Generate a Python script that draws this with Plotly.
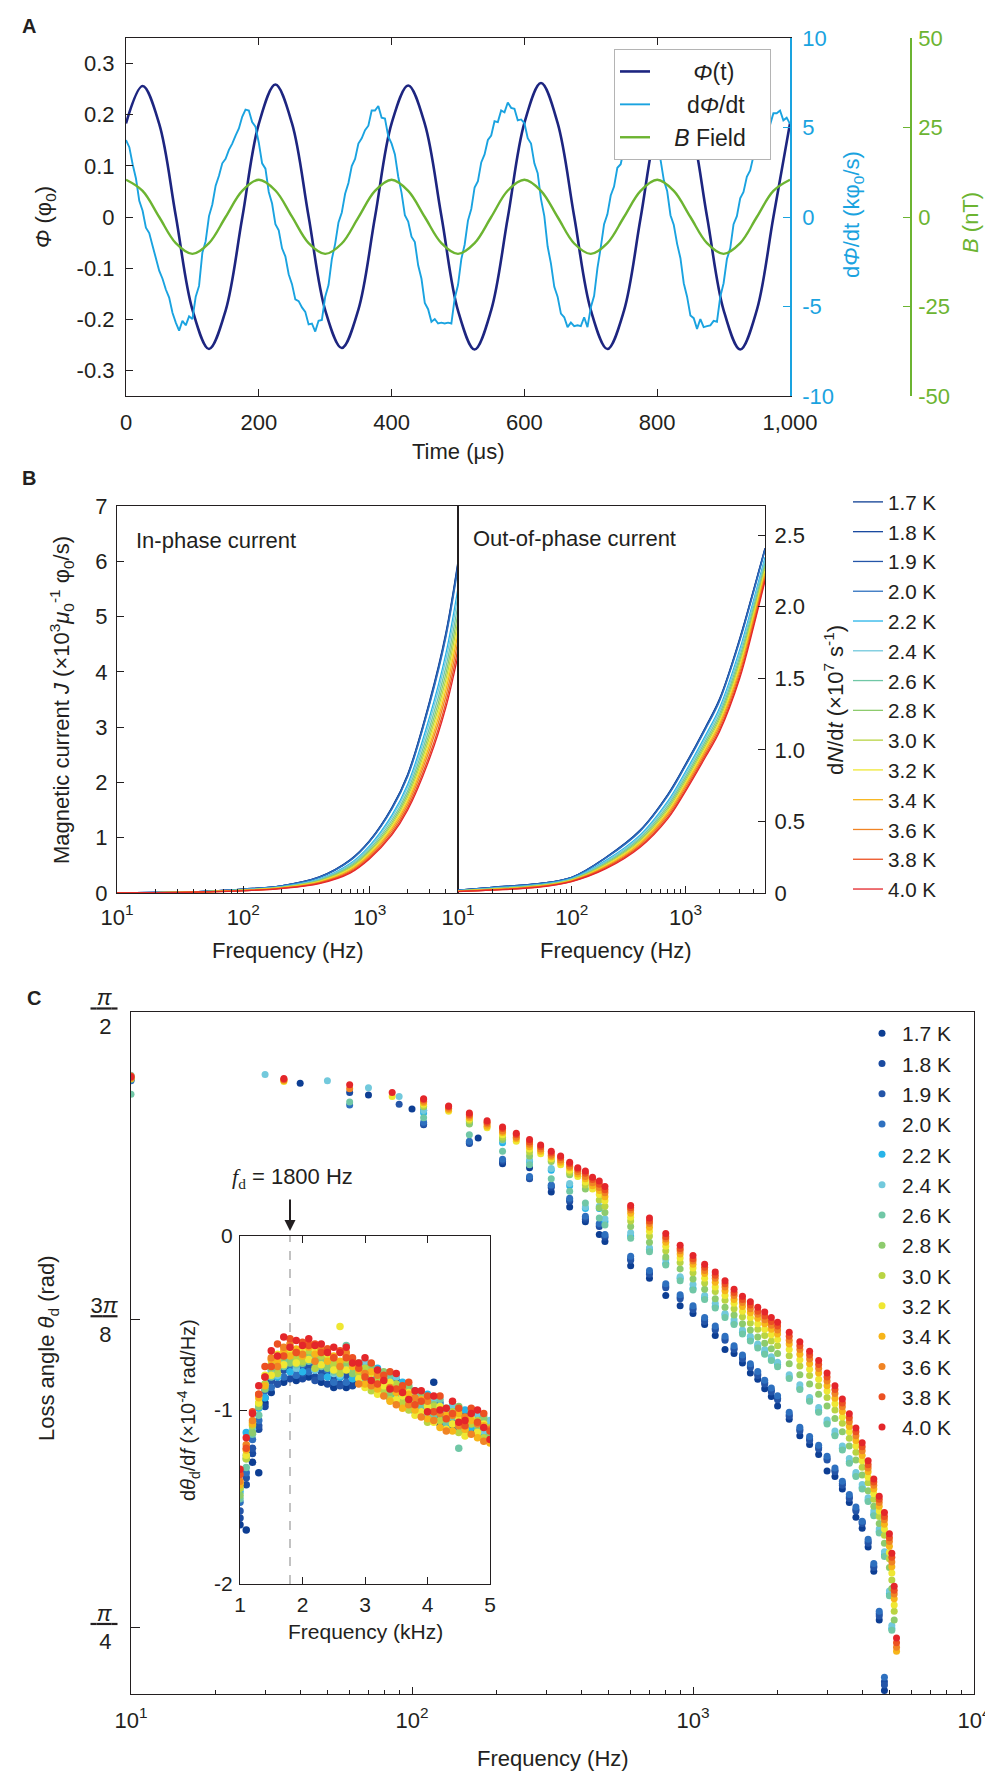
import plotly.graph_objects as go

# ================= Panel A data =================
T_PHI = list(range(0, 1001, 25))          # time (us)
PHI = [0.183, 0.256, 0.182, 0.002, -0.181, -0.258, -0.183, -0.002,
       0.182, 0.259, 0.183, 0.001, -0.182, -0.256, -0.181, 0.000,
       0.183, 0.257, 0.182, 0.002, -0.183, -0.259, -0.182, -0.001,
       0.184, 0.262, 0.184, 0.001, -0.182, -0.258, -0.183, -0.002,
       0.182, 0.258, 0.183, 0.001, -0.182, -0.259, -0.182, 0.000,
       0.183]
B_FIELD = [10.4, 7.3, 0.0, -7.3, -10.3, -7.3, 0.0, 7.3,
           10.4, 7.4, 0.1, -7.3, -10.3, -7.4, -0.1, 7.3,
           10.4, 7.3, 0.0, -7.3, -10.3, -7.3, 0.0, 7.4,
           10.4, 7.3, 0.0, -7.4, -10.3, -7.3, 0.0, 7.3,
           10.4, 7.3, 0.0, -7.3, -10.3, -7.3, 0.0, 7.3,
           10.4]
T_DPHI = list(range(0, 1001, 5))          # time (us)
DPHI = [4.3, 3.9, 2.95, 2.15, 0.9, 0.35, -0.6, -0.9, -1.6, -2.25,
        -3.0, -3.45, -4.05, -4.5, -5.35, -5.9, -6.35, -5.8, -6.05, -5.55,
        -5.7, -4.45, -3.85, -2.0, -1.35, 0.05, 0.7, 1.75, 2.3, 3.0,
        3.25, 3.75, 4.1, 4.55, 4.95, 5.6, 6.0, 5.95, 5.3, 5.05,
        4.15, 3.0, 2.7, 1.4, 0.75, -0.4, -0.75, -1.75, -2.2, -3.2,
        -3.75, -4.6, -4.7, -5.05, -5.3, -6.0, -5.95, -6.4, -5.8, -5.75,
        -4.45, -3.8, -2.35, -1.5, -0.3, 0.25, 1.3, 1.9, 2.85, 3.25,
        4.1, 4.4, 4.85, 5.1, 5.95, 5.95, 6.2, 5.55, 5.5, 4.5,
        4.1, 3.5, 2.25, 1.35, 0.1, -0.25, -1.1, -1.4, -2.7, -3.45,
        -4.8, -5.15, -5.85, -5.7, -5.95, -5.9, -5.95, -5.9, -5.95, -4.55,
        -3.8, -2.35, -1.55, -0.2, 0.45, 1.65, 2.0, 3.05, 3.5, 4.3,
        4.55, 5.35, 5.3, 5.95, 5.85, 6.4, 6.1, 6.05, 5.4, 5.45,
        5.25, 4.4, 4.1, 3.0, 2.45, 1.0, 0.05, -1.65, -2.6, -3.9,
        -4.45, -5.4, -5.6, -6.15, -5.9, -6.1, -6.05, -6.1, -5.6, -6.15,
        -5.05, -4.4, -2.85, -1.7, -0.4, 0.15, 1.2, 1.7, 2.75, 2.95,
        3.8, 3.9, 4.65, 4.7, 5.45, 5.55, 6.2, 5.55, 5.3, 4.4,
        4.0, 3.2, 2.05, 1.45, 0.1, -0.45, -1.5, -2.3, -3.7, -4.45,
        -5.5, -5.65, -6.25, -5.7, -6.15, -6.1, -6.05, -5.8, -5.85, -4.45,
        -3.7, -2.35, -1.75, -0.4, 0.05, 1.05, 1.4, 2.25, 2.6, 3.4,
        3.55, 4.25, 4.3, 5.05, 5.15, 5.8, 5.8, 5.95, 5.4, 5.55,
        5.2]
A_X_TICKS = [0, 200, 400, 600, 800, 1000]
A_X_TEXT = ['0', '200', '400', '600', '800', '1,000']
A_Y_TICKS = [-0.3, -0.2, -0.1, 0, 0.1, 0.2, 0.3]
A_Y_TEXT = ['-0.3', '-0.2', '-0.1', '0', '0.1', '0.2', '0.3']
A_Y2_TICKS = [-10, -5, 0, 5, 10]
A_Y2_TEXT = ['-10', '-5', '0', '5', '10']
A_Y3_TICKS = [-50, -25, 0, 25, 50]
A_Y3_TEXT = ['-50', '-25', '0', '25', '50']

# ================= Temperatures =================
TEMPS = ['1.7 K', '1.8 K', '1.9 K', '2.0 K', '2.2 K', '2.4 K', '2.6 K',
         '2.8 K', '3.0 K', '3.2 K', '3.4 K', '3.6 K', '3.8 K', '4.0 K']
T_COLORS = ['#0d3e93', '#1a4aa0', '#2455a8', '#2e70bf', '#27b4e9', '#72c9dc', '#70c7a6',
            '#8dcb6d', '#b9d443', '#efe733', '#f7b51a', '#f08424', '#ec5122', '#e4262a']

# ================= Panel B data =================
FREQ_B = [10, 20, 50, 100, 200, 400, 700, 1000, 1500, 2000, 3000, 4000, 5000]
BI_17 = [0.0, 0.01, 0.03, 0.07, 0.13, 0.29, 0.60, 0.95, 1.55, 2.15, 3.50, 4.70, 6.00]
BI_18 = [0.0, 0.01, 0.03, 0.07, 0.13, 0.29, 0.595, 0.94, 1.54, 2.14, 3.48, 4.67, 5.97]
BI_19 = [0.0, 0.01, 0.03, 0.07, 0.13, 0.285, 0.59, 0.94, 1.53, 2.12, 3.46, 4.65, 5.93]
BI_20 = [0.0, 0.01, 0.03, 0.068, 0.127, 0.282, 0.583, 0.93, 1.515, 2.105, 3.43, 4.61, 5.88]
BI_22 = [0.0, 0.008, 0.027, 0.062, 0.116, 0.256, 0.533, 0.858, 1.41, 1.968, 3.21, 4.32, 5.52]
BI_24 = [0.0, 0.008, 0.026, 0.059, 0.112, 0.247, 0.514, 0.831, 1.37, 1.916, 3.12, 4.21, 5.39]
BI_26 = [0.0, 0.008, 0.025, 0.056, 0.107, 0.235, 0.49, 0.798, 1.32, 1.851, 3.017, 4.079, 5.218]
BI_28 = [0.0, 0.007, 0.025, 0.054, 0.103, 0.224, 0.468, 0.768, 1.275, 1.793, 2.923, 3.958, 5.065]
BI_30 = [0.0, 0.007, 0.024, 0.051, 0.099, 0.214, 0.449, 0.742, 1.235, 1.74, 2.84, 3.85, 4.93]
BI_32 = [0.0, 0.006, 0.023, 0.049, 0.095, 0.206, 0.432, 0.719, 1.20, 1.695, 2.765, 3.755, 4.81]
BI_34 = [0.0, 0.006, 0.022, 0.047, 0.092, 0.198, 0.415, 0.696, 1.165, 1.65, 2.69, 3.66, 4.69]
BI_36 = [0.0, 0.006, 0.022, 0.045, 0.088, 0.188, 0.396, 0.67, 1.125, 1.598, 2.61, 3.55, 4.56]
BI_38 = [0.0, 0.005, 0.021, 0.042, 0.084, 0.179, 0.377, 0.643, 1.085, 1.545, 2.52, 3.44, 4.42]
BI_40 = [0.0, 0.005, 0.02, 0.04, 0.08, 0.17, 0.36, 0.62, 1.05, 1.50, 2.45, 3.35, 4.30]

BO_17 = [0.02, 0.04, 0.065, 0.11, 0.25, 0.44, 0.69, 0.90, 1.16, 1.36, 1.78, 2.13, 2.41]
BO_18 = [0.02, 0.04, 0.065, 0.109, 0.248, 0.438, 0.687, 0.896, 1.156, 1.355, 1.774, 2.125, 2.405]
BO_19 = [0.02, 0.039, 0.064, 0.109, 0.247, 0.435, 0.683, 0.892, 1.152, 1.351, 1.769, 2.12, 2.40]
BO_20 = [0.019, 0.039, 0.063, 0.108, 0.244, 0.432, 0.678, 0.887, 1.145, 1.344, 1.76, 2.112, 2.394]
BO_22 = [0.017, 0.034, 0.058, 0.102, 0.228, 0.406, 0.642, 0.847, 1.101, 1.296, 1.702, 2.057, 2.346]
BO_24 = [0.016, 0.033, 0.056, 0.099, 0.221, 0.397, 0.629, 0.832, 1.084, 1.277, 1.679, 2.036, 2.327]
BO_26 = [0.015, 0.031, 0.054, 0.096, 0.213, 0.385, 0.612, 0.813, 1.063, 1.254, 1.651, 2.01, 2.304]
BO_28 = [0.015, 0.029, 0.051, 0.094, 0.206, 0.374, 0.597, 0.796, 1.045, 1.234, 1.626, 1.987, 2.284]
BO_30 = [0.014, 0.027, 0.049, 0.091, 0.2, 0.364, 0.583, 0.78, 1.028, 1.215, 1.604, 1.966, 2.265]
BO_32 = [0.013, 0.026, 0.048, 0.089, 0.194, 0.356, 0.571, 0.767, 1.013, 1.199, 1.584, 1.948, 2.249]
BO_34 = [0.012, 0.025, 0.046, 0.087, 0.188, 0.348, 0.559, 0.754, 0.998, 1.183, 1.564, 1.93, 2.233]
BO_36 = [0.012, 0.023, 0.044, 0.085, 0.182, 0.338, 0.546, 0.739, 0.981, 1.165, 1.542, 1.909, 2.214]
BO_38 = [0.011, 0.021, 0.042, 0.082, 0.176, 0.328, 0.532, 0.723, 0.965, 1.146, 1.52, 1.888, 2.196]
BO_40 = [0.01, 0.02, 0.04, 0.08, 0.17, 0.32, 0.52, 0.71, 0.95, 1.13, 1.50, 1.87, 2.18]

B_X_TICKS = [10, 100, 1000]
B_X_TEXT = ['10<sup>1</sup>', '10<sup>2</sup>', '10<sup>3</sup>']
B_MINOR = [20, 30, 40, 50, 60, 70, 80, 90, 200, 300, 400, 500, 600, 700, 800, 900,
           2000, 3000, 4000]
B_Y_TICKS = [0, 1, 2, 3, 4, 5, 6, 7]
B_Y2_TICKS = [0, 0.5, 1.0, 1.5, 2.0, 2.5]
B_Y2_TEXT = ['0', '0.5', '1.0', '1.5', '2.0', '2.5']

# ================= Panel C data =================
N = None
C_F_LOW = [10, 30, 35, 40, 50, 60, 70, 85, 90, 100,
           110, 135, 160, 172, 185, 210, 235, 262, 287, 313, 338, 364, 389, 414, 439, 464, 486]
C_F_HIGH = [600, 700, 800, 900, 1000, 1100, 1200, 1300, 1400, 1500, 1600, 1700, 1800, 1900, 2000,
            2200, 2400, 2600, 2800, 3000, 3200, 3400, 3600, 3800, 4000, 4200, 4400, 4600, 4800, 5000,
            5100, 5200, 5300]

LO_17 = [1.484, N, N, 1.480, N, N, 1.465, N, N, 1.447, 1.445, N, N, 1.410, N, 1.377, N, 1.372, N, 1.341, N, 1.322, N, 1.303, N, 1.287, 1.278]
LO_18 = [1.488, N, N, N, N, 1.468, N, N, N, N, 1.427, N, 1.403, N, N, 1.380, N, 1.358, N, 1.347, N, 1.329, N, 1.306, N, 1.297, 1.283]
LO_19 = [1.486, N, N, N, N, N, N, N, 1.453, N, 1.428, N, 1.404, N, N, 1.381, N, 1.359, N, 1.349, N, 1.331, N, 1.308, N, 1.299, 1.285]
LO_20 = [1.483, N, N, N, N, 1.452, N, N, N, N, 1.430, N, 1.406, N, N, 1.383, N, 1.361, N, 1.350, N, 1.333, N, 1.310, N, 1.301, 1.287]
LO_22 = [1.489, N, N, N, N, N, N, N, N, N, 1.442, N, 1.429, N, N, 1.404, N, 1.380, N, 1.369, N, 1.349, N, 1.320, N, 1.320, 1.303]
LO_24 = [1.490, 1.491, N, N, 1.483, N, 1.474, N, 1.463, N, 1.445, N, 1.431, N, N, 1.407, N, 1.382, N, 1.371, N, 1.352, N, 1.322, N, 1.323, 1.307]
LO_26 = [1.466, N, N, N, N, 1.456, N, N, N, N, 1.436, N, 1.414, N, N, 1.393, N, 1.376, N, 1.358, N, 1.342, N, 1.327, N, 1.308, 1.299]
LO_28 = [1.485, N, N, N, N, N, N, N, N, N, 1.450, N, 1.428, N, N, 1.408, N, 1.387, N, 1.380, N, 1.363, N, 1.345, N, 1.321, 1.315]
LO_30 = [1.487, N, N, N, N, N, N, N, N, N, 1.451, N, 1.432, N, N, 1.411, N, 1.392, N, 1.382, N, 1.366, N, 1.350, N, 1.331, 1.323]
LO_32 = [1.489, N, 1.482, N, N, N, N, 1.463, N, N, 1.453, 1.444, 1.434, N, 1.423, 1.414, 1.406, 1.396, 1.390, 1.384, 1.376, 1.369, 1.361, 1.354, 1.345, 1.338, 1.330]
LO_34 = [1.486, N, 1.483, N, N, N, N, N, N, N, 1.455, 1.446, 1.436, N, 1.425, 1.417, 1.409, 1.399, 1.393, 1.386, 1.379, 1.372, 1.364, 1.358, 1.349, 1.343, 1.335]
LO_36 = [1.487, N, 1.484, N, N, 1.473, N, N, N, N, 1.457, 1.448, 1.438, N, 1.428, 1.419, 1.411, 1.402, 1.396, 1.388, 1.382, 1.374, 1.367, 1.361, 1.353, 1.347, 1.340]
LO_38 = [1.489, N, 1.485, N, N, N, N, N, N, N, 1.459, 1.450, 1.440, N, 1.430, 1.422, 1.414, 1.405, 1.399, 1.391, 1.385, 1.377, 1.370, 1.365, 1.357, 1.351, 1.344]
LO_40 = [1.488, N, 1.486, N, N, 1.478, N, 1.468, N, N, 1.460, 1.451, 1.442, N, 1.432, 1.424, 1.416, 1.408, 1.401, 1.393, 1.387, 1.379, 1.372, 1.368, 1.360, 1.355, 1.348]

HI_17 = [1.247, 1.231, 1.209, 1.196, 1.186, 1.172, 1.158, 1.140, 1.135, 1.123, 1.110, 1.102, 1.090, 1.080, 1.068,
         1.051, 1.030, 1.019, 1.006, 0.985, 0.978, 0.962, 0.945, 0.926, 0.912, 0.888, 0.857, 0.795, 0.705, N,
         N, N, N]
HI_18 = [1.256, 1.238, 1.221, 1.207, 1.193, 1.178, 1.167, 1.154, 1.142, 1.130, 1.119, 1.109, 1.098, 1.088, 1.078,
         1.057, 1.038, 1.026, 1.015, 1.001, 0.986, 0.969, 0.952, 0.936, 0.920, 0.895, 0.864, 0.803, 0.716, N,
         N, N, N]
HI_19 = [1.254, 1.236, 1.219, 1.205, 1.191, 1.176, 1.165, 1.152, 1.140, 1.128, 1.117, 1.107, 1.096, 1.086, 1.076,
         1.055, 1.036, 1.024, 1.013, 0.999, 0.984, 0.967, 0.950, 0.934, 0.918, 0.893, 0.862, 0.800, 0.712, N,
         N, N, N]
HI_20 = [1.259, 1.241, 1.224, 1.210, 1.196, 1.181, 1.170, 1.157, 1.145, 1.133, 1.122, 1.112, 1.101, 1.091, 1.081,
         1.060, 1.041, 1.029, 1.018, 1.004, 0.989, 0.972, 0.955, 0.939, 0.921, 0.898, 0.867, 0.806, 0.722, N,
         N, N, N]
HI_22 = [1.285, 1.268, 1.250, 1.231, 1.218, 1.206, 1.195, 1.184, 1.174, 1.162, 1.153, 1.145, 1.136, 1.128, 1.121,
         1.105, 1.091, 1.076, 1.062, 1.047, 1.032, 1.014, 0.997, 0.980, 0.964, 0.948, 0.930, 0.908, 0.878, 0.828,
         0.784, N, N]
HI_24 = [1.289, 1.270, 1.255, 1.233, 1.223, 1.209, 1.199, 1.186, 1.178, 1.165, 1.157, 1.147, 1.140, 1.131, 1.124,
         1.108, 1.095, 1.079, 1.066, 1.050, 1.036, 1.017, 1.001, 0.983, 0.968, 0.951, 0.934, 0.911, 0.882, 0.832,
         0.788, N, N]
HI_26 = [1.282, 1.265, 1.248, 1.228, 1.216, 1.204, 1.193, 1.181, 1.172, 1.160, 1.151, 1.142, 1.134, 1.126, 1.118,
         1.103, 1.089, 1.074, 1.060, 1.045, 1.030, 1.012, 0.995, 0.978, 0.962, 0.946, 0.928, 0.906, 0.876, 0.826,
         0.782, N, N]
HI_28 = [1.297, 1.277, 1.258, 1.243, 1.230, 1.217, 1.205, 1.194, 1.184, 1.173, 1.165, 1.156, 1.148, 1.141, 1.135,
         1.122, 1.108, 1.096, 1.083, 1.068, 1.052, 1.035, 1.017, 0.999, 0.980, 0.960, 0.940, 0.918, 0.893, 0.862,
         0.835, 0.795, N]
HI_30 = [1.304, 1.285, 1.266, 1.251, 1.238, 1.225, 1.214, 1.203, 1.192, 1.182, 1.174, 1.166, 1.158, 1.151, 1.145,
         1.132, 1.119, 1.107, 1.094, 1.079, 1.063, 1.046, 1.027, 1.009, 0.990, 0.970, 0.949, 0.927, 0.903, 0.873,
         0.846, 0.806, N]
HI_32 = [1.309, 1.291, 1.272, 1.257, 1.244, 1.231, 1.220, 1.209, 1.199, 1.189, 1.181, 1.173, 1.166, 1.159, 1.153,
         1.140, 1.127, 1.115, 1.102, 1.087, 1.071, 1.054, 1.035, 1.017, 0.998, 0.977, 0.956, 0.934, 0.911, 0.881,
         0.855, 0.814, N]
HI_34 = [1.314, 1.296, 1.277, 1.262, 1.249, 1.237, 1.226, 1.215, 1.204, 1.195, 1.187, 1.180, 1.173, 1.166, 1.160,
         1.147, 1.134, 1.122, 1.110, 1.094, 1.078, 1.061, 1.042, 1.024, 1.005, 0.984, 0.962, 0.940, 0.917, 0.889,
         0.863, 0.822, 0.755]
HI_36 = [1.318, 1.301, 1.281, 1.266, 1.253, 1.241, 1.231, 1.220, 1.209, 1.200, 1.192, 1.185, 1.178, 1.171, 1.165,
         1.152, 1.140, 1.128, 1.116, 1.100, 1.084, 1.067, 1.048, 1.030, 1.011, 0.989, 0.967, 0.945, 0.923, 0.895,
         0.869, 0.828, 0.760]
HI_38 = [1.321, 1.304, 1.284, 1.269, 1.256, 1.245, 1.235, 1.224, 1.213, 1.204, 1.197, 1.189, 1.183, 1.176, 1.170,
         1.157, 1.145, 1.133, 1.121, 1.105, 1.089, 1.072, 1.053, 1.035, 1.016, 0.993, 0.971, 0.949, 0.927, 0.900,
         0.875, 0.833, 0.766]
HI_40 = [1.324, 1.308, 1.288, 1.273, 1.260, 1.249, 1.239, 1.228, 1.217, 1.208, 1.201, 1.194, 1.188, 1.181, 1.175,
         1.162, 1.150, 1.138, 1.126, 1.110, 1.094, 1.077, 1.058, 1.040, 1.021, 0.998, 0.975, 0.953, 0.932, 0.905,
         0.880, 0.838, 0.772]

C_X_TICKS = [10, 100, 1000, 10000]
C_X_TEXT = ['10<sup>1</sup>', '10<sup>2</sup>', '10<sup>3</sup>', '10<sup>4</sup>']
C_MINOR = [20, 30, 40, 50, 60, 70, 80, 90, 200, 300, 400, 500, 600, 700, 800, 900,
           2000, 3000, 4000, 5000, 6000, 7000, 8000, 9000]
C_Y_TICKS = [0.785398, 1.178097, 1.570796]
C_Y_TEXT = ['<u>\u00a0<i>π</i>\u00a0</u><br>\u00a04\u00a0',
            '<u>3<i>π</i></u><br>\u00a08\u00a0',
            '<u>\u00a0<i>π</i>\u00a0</u><br>\u00a02\u00a0']

# ================= Inset data (dθd/df, x10^-4 rad/Hz vs kHz) =================
FREQ_IN = [1.0, 1.1, 1.2, 1.3, 1.4, 1.5, 1.6, 1.7, 1.8, 1.9,
           2.0, 2.1, 2.2, 2.3, 2.4, 2.5, 2.6, 2.7, 2.8, 2.9,
           3.0, 3.1, 3.2, 3.3, 3.4, 3.5, 3.6, 3.7, 3.8, 3.9,
           4.0, 4.1, 4.2, 4.3, 4.4, 4.5, 4.6, 4.7, 4.8, 4.9, 5.0]
IN_17 = [-1.66, -1.69, -1.30, -1.36,
         -0.96, -0.90, -0.80, -0.84, -0.77, -0.83, -0.77, -0.81, -0.77, -0.84, -0.80, -0.87, -0.81, -0.87, -0.83,
         -0.75, -0.83, -0.76, -0.86, -0.80, -0.93, -0.88, -0.97, -0.89, -0.98, -0.92, -1.03, -0.84, -1.08, -1.01,
         -1.10, -1.00, -1.09, -1.04, -1.14, -1.07, -1.17]
IN_18 = [-1.62, -1.43, -1.25, -1.11,
         -0.98, -0.83, -0.85, -0.77, -0.82, -0.76, -0.82, -0.75, -0.81, -0.77, -0.85, -0.80, -0.85, -0.80, -0.86,
         -0.83, -0.77, -0.84, -0.78, -0.90, -0.85, -0.95, -0.86, -0.95, -0.91, -1.02, -0.93, -1.04, -1.00, -1.10,
         -1.01, -1.07, -1.02, -1.12, -1.06, -1.16, -1.09]
IN_19 = [-1.58, -1.39, -1.22, -1.09,
         -0.93, -0.83, -0.85, -0.77, -0.73, -0.80, -0.79, -0.75, -0.83, -0.78, -0.76, -0.83, -0.86, -0.80, -0.80,
         -0.77, -0.74, -0.87, -0.81, -0.87, -0.92, -0.83, -0.94, -0.98, -0.93, -0.93, -1.05, -0.96, -1.04, -1.03,
         -0.99, -1.11, -1.10, -1.06, -1.04, -1.14, -1.08]
IN_20 = [-1.53, -1.36, -1.17, -1.06,
         -0.89, -0.87, -0.77, -0.81, -0.74, -0.80, -0.74, -0.78, -0.74, -0.81, -0.77, -0.84, -0.78, -0.84, -0.81,
         -0.80, -0.85, -0.77, -0.89, -0.84, -0.82, -0.92, -0.90, -0.88, -1.01, -0.99, -0.96, -1.05, -0.96, -1.09,
         -1.06, -1.03, -1.13, -1.03, -1.11, -1.06, -1.16]
IN_22 = [-1.47, -1.13, -1.13, -0.99,
         -0.93, -0.77, -0.81, -0.71, -0.78, -0.70, -0.78, -0.69, -0.77, -0.71, -0.81, -0.74, -0.81, -0.74, -0.82,
         -0.81, -0.75, -0.82, -0.76, -0.88, -0.83, -0.93, -0.84, -0.93, -0.89, -1.00, -0.91, -1.02, -0.98, -1.08,
         -0.99, -1.05, -1.00, -1.10, -1.04, -1.14, -1.07]
IN_24 = [-1.45, -1.26, -1.11, -0.98,
         -0.86, -0.79, -0.80, -0.73, -0.67, -0.76, -0.73, -0.71, -0.77, -0.74, -0.70, -0.79, -0.80, -0.76, -0.76,
         -0.75, -0.72, -0.85, -0.79, -0.85, -0.90, -0.81, -0.92, -0.96, -0.91, -0.91, -1.03, -0.94, -1.02, -1.01,
         -0.97, -1.09, -1.08, -1.04, -1.02, -1.12, -1.06]
IN_26 = [-1.51, -1.33, -1.14, -1.03,
         -0.85, -0.81, -0.73, -0.75, -0.70, -0.74, -0.70, -0.72, -0.70, -0.75, -0.73, -0.78, -0.74, -0.63, -0.78,
         -0.78, -0.83, -0.75, -0.87, -0.82, -0.80, -0.90, -0.88, -0.86, -0.99, -0.97, -0.94, -1.03, -0.94, -1.07,
         -1.04, -1.22, -1.11, -1.01, -1.09, -1.04, -1.14]
IN_28 = [-1.49, -1.28, -1.13, -0.98,
         -0.88, -0.76, -0.76, -0.70, -0.73, -0.69, -0.73, -0.68, -0.72, -0.70, -0.76, -0.73, -0.76, -0.73, -0.79,
         -0.73, -0.81, -0.74, -0.84, -0.78, -0.91, -0.86, -0.95, -0.87, -0.96, -0.90, -1.01, -0.97, -1.06, -0.99,
         -1.08, -0.98, -1.07, -1.02, -1.12, -1.05, -1.15]
IN_30 = [-1.45, -1.28, -1.09, -0.96,
         -0.85, -0.74, -0.79, -0.68, -0.66, -0.71, -0.72, -0.66, -0.76, -0.69, -0.69, -0.74, -0.79, -0.71, -0.75,
         -0.79, -0.76, -0.89, -0.83, -0.89, -0.94, -0.85, -0.96, -1.00, -0.95, -0.95, -1.07, -0.98, -1.06, -1.05,
         -1.01, -1.13, -1.12, -1.08, -1.06, -1.16, -1.10]
IN_32 = [-1.42, -1.26, -1.07, -0.96,
         -0.80, -0.80, -0.68, -0.74, -0.65, -0.73, -0.65, -0.71, -0.65, -0.74, -0.68, -0.77, -0.52, -0.77, -0.73,
         -0.82, -0.87, -0.79, -0.91, -0.86, -0.84, -0.94, -0.92, -0.90, -1.03, -1.01, -0.98, -1.07, -0.98, -1.11,
         -1.08, -1.05, -1.15, -1.05, -1.13, -1.08, -1.18]
IN_34 = [-1.43, -1.23, -1.08, -0.93,
         -0.86, -0.71, -0.72, -0.66, -0.69, -0.65, -0.69, -0.64, -0.68, -0.66, -0.72, -0.69, -0.72, -0.69, -0.75,
         -0.77, -0.85, -0.78, -0.88, -0.82, -0.95, -0.90, -0.99, -0.91, -1.00, -0.94, -1.05, -1.01, -1.10, -1.03,
         -1.12, -1.02, -1.11, -1.06, -1.16, -1.09, -1.19]
IN_36 = [-1.41, -1.20, -1.06, -0.91,
         -0.81, -0.70, -0.75, -0.64, -0.62, -0.67, -0.68, -0.62, -0.72, -0.65, -0.65, -0.70, -0.75, -0.67, -0.71,
         -0.85, -0.79, -0.86, -0.80, -0.92, -0.87, -0.97, -0.88, -0.97, -0.93, -1.04, -0.95, -1.06, -1.02, -1.12,
         -1.03, -1.09, -1.04, -1.14, -1.08, -1.18, -1.11]
IN_38 = [-1.37, -1.22, -1.01, -0.91,
         -0.75, -0.75, -0.62, -0.69, -0.59, -0.67, -0.61, -0.63, -0.62, -0.67, -0.65, -0.70, -0.66, -0.70, -0.70,
         -0.76, -0.81, -0.73, -0.85, -0.80, -0.78, -0.88, -0.86, -0.84, -0.97, -0.95, -0.92, -1.01, -0.92, -1.05,
         -1.02, -0.99, -1.09, -0.99, -1.07, -1.02, -1.12]
IN_40 = [-1.34, -1.16, -1.02, -0.86,
         -0.81, -0.66, -0.69, -0.58, -0.64, -0.60, -0.63, -0.59, -0.63, -0.62, -0.67, -0.64, -0.67, -0.64, -0.73,
         -0.73, -0.70, -0.83, -0.77, -0.83, -0.88, -0.79, -0.90, -0.94, -0.89, -0.89, -1.01, -0.92, -1.00, -0.99,
         -0.95, -1.07, -1.06, -1.02, -1.00, -1.10, -1.17]
F_D_KHZ = 1.8
IN_Y_SPAN = [-2, 0]
IN_X_TICKS = [1, 2, 3, 4, 5]
IN_Y_TICKS = [-2, -1, 0]
IN_Y_TEXT = ['-2', '-1', '0']

BI = [BI_17, BI_18, BI_19, BI_20, BI_22, BI_24, BI_26, BI_28, BI_30, BI_32, BI_34, BI_36, BI_38, BI_40]
BO = [BO_17, BO_18, BO_19, BO_20, BO_22, BO_24, BO_26, BO_28, BO_30, BO_32, BO_34, BO_36, BO_38, BO_40]
LO = [LO_17, LO_18, LO_19, LO_20, LO_22, LO_24, LO_26, LO_28, LO_30, LO_32, LO_34, LO_36, LO_38, LO_40]
HI = [HI_17, HI_18, HI_19, HI_20, HI_22, HI_24, HI_26, HI_28, HI_30, HI_32, HI_34, HI_36, HI_38, HI_40]
IN = [IN_17, IN_18, IN_19, IN_20, IN_22, IN_24, IN_26, IN_28, IN_30, IN_32, IN_34, IN_36, IN_38, IN_40]
for arr in LO:
    assert len(arr) == len(C_F_LOW)
for arr in HI:
    assert len(arr) == len(C_F_HIGH)
for arr in IN:
    assert len(arr) == len(FREQ_IN), len(arr)
assert len(DPHI) == len(T_DPHI)

# ================= Figure =================
W, H = 993, 1771
def fx(p):
    return p / W
def fy(p):
    return 1 - p / H

INK = '#231f20'
FONT = 'Liberation Sans, Arial, Helvetica, sans-serif'
NAVY = '#1d2580'
LIGHT = '#1aa3e0'
GREEN = '#6cb431'

fig = go.Figure()

# ---- Panel A
PAD = '\u00a0'
fig.add_trace(go.Scatter(x=T_PHI, y=PHI, mode='lines', name=PAD * 6 + '<i>Φ</i>(t)',
                         line=dict(color=NAVY, width=2.6, shape='spline'),
                         xaxis='x', yaxis='y', legend='legend'))
fig.add_trace(go.Scatter(x=T_DPHI, y=DPHI, mode='lines', name=PAD * 5 + 'd<i>Φ</i>/dt',
                         line=dict(color=LIGHT, width=1.9),
                         xaxis='x', yaxis='y2', legend='legend'))
fig.add_trace(go.Scatter(x=T_PHI, y=B_FIELD, mode='lines', name=PAD * 3 + '<i>B</i> Field' + PAD * 3,
                         line=dict(color=GREEN, width=2.4, shape='spline'),
                         xaxis='x', yaxis='y3', legend='legend'))

# ---- Panel B
for i, t in enumerate(TEMPS):
    fig.add_trace(go.Scatter(x=FREQ_B, y=BI[i], mode='lines', name=t,
                             line=dict(color=T_COLORS[i], width=1.3, shape='spline', smoothing=1.0),
                             xaxis='x2', yaxis='y4', legend='legend2'))
for i, t in enumerate(TEMPS):
    fig.add_trace(go.Scatter(x=FREQ_B, y=BO[i], mode='lines', name=t, showlegend=False,
                             line=dict(color=T_COLORS[i], width=1.3, shape='spline', smoothing=1.0),
                             xaxis='x3', yaxis='y5'))

# ---- Panel C main
for i, t in enumerate(TEMPS):
    fig.add_trace(go.Scatter(x=C_F_LOW + C_F_HIGH, y=LO[i] + HI[i], mode='markers', name=t,
                             marker=dict(color=T_COLORS[i], size=7, line=dict(width=0)),
                             xaxis='x4', yaxis='y6', legend='legend3'))

# ---- Inset
fig.add_trace(go.Scatter(x=[F_D_KHZ, F_D_KHZ], y=IN_Y_SPAN, mode='lines', showlegend=False,
                         line=dict(color='#9a9a9a', width=1.2, dash='dash'),
                         xaxis='x5', yaxis='y7'))
for i, t in enumerate(TEMPS):
    fig.add_trace(go.Scatter(x=FREQ_IN, y=IN[i], mode='markers', name=t, showlegend=False,
                             marker=dict(color=T_COLORS[i], size=7.5, line=dict(width=0)),
                             xaxis='x5', yaxis='y7'))

tickfont = dict(family=FONT, size=22, color=INK)
base_ax = dict(showgrid=False, zeroline=False, showline=True, linecolor=INK, linewidth=1.2,
               ticks='inside', ticklen=7, tickwidth=1.2, tickcolor=INK, tickfont=tickfont,
               automargin=False)

layout = dict(
    width=W, height=H, autosize=False,
    margin=dict(l=0, r=0, t=0, b=0, pad=0),
    paper_bgcolor='white', plot_bgcolor='white',
    font=dict(family=FONT, color=INK, size=22),
    showlegend=True,
    # Panel A
    xaxis=dict(base_ax, domain=[fx(118), fx(782)], anchor='y', range=[0, 1000],
               tickmode='array', tickvals=A_X_TICKS, ticktext=A_X_TEXT, mirror='ticks',
               ticklabelstandoff=6),
    yaxis=dict(base_ax, domain=[fy(388), fy(30)], anchor='x', range=[-0.35, 0.35],
               tickmode='array', tickvals=A_Y_TICKS, ticktext=A_Y_TEXT, ticklabelstandoff=6),
    yaxis2=dict(base_ax, overlaying='y', side='right', anchor='x', range=[-10, 10],
                tickmode='array', tickvals=A_Y2_TICKS, ticktext=A_Y2_TEXT,
                linecolor=LIGHT, tickcolor=LIGHT, linewidth=1.5,
                tickfont=dict(family=FONT, size=22, color=LIGHT), ticklabelstandoff=6),
    yaxis3=dict(base_ax, overlaying='y', side='right', anchor='free', position=fx(903),
                range=[-50, 50], tickmode='array', tickvals=A_Y3_TICKS, ticktext=A_Y3_TEXT,
                linecolor=GREEN, tickcolor=GREEN, linewidth=1.5,
                tickfont=dict(family=FONT, size=22, color=GREEN), ticklabelstandoff=2),
    # Panel B
    xaxis2=dict(base_ax, domain=[fx(109), fx(450)], anchor='y4', type='log', range=[1, 3.69897],
                tickmode='array', tickvals=B_X_TICKS, ticktext=B_X_TEXT, mirror=True,
                minor=dict(tickmode='array', tickvals=B_MINOR, ticks='inside', ticklen=4,
                           tickcolor=INK, tickwidth=1), ticklabelstandoff=4),
    yaxis4=dict(base_ax, domain=[fy(885), fy(498)], anchor='x2', range=[0, 7],
                tickmode='array', tickvals=B_Y_TICKS, mirror=True, ticklabelstandoff=4),
    xaxis3=dict(base_ax, domain=[fx(450), fx(757)], anchor='y5', type='log', range=[1, 3.69897],
                tickmode='array', tickvals=B_X_TICKS, ticktext=B_X_TEXT, mirror=True,
                minor=dict(tickmode='array', tickvals=B_MINOR, ticks='inside', ticklen=4,
                           tickcolor=INK, tickwidth=1), ticklabelstandoff=4),
    yaxis5=dict(base_ax, domain=[fy(885), fy(498)], anchor='x3', side='right', range=[0, 2.704],
                tickmode='array', tickvals=B_Y2_TICKS, ticktext=B_Y2_TEXT, mirror=True,
                ticklabelstandoff=4),
    # Panel C
    xaxis4=dict(base_ax, domain=[fx(123), fx(966)], anchor='y6', type='log', range=[1, 4],
                tickmode='array', tickvals=C_X_TICKS, ticktext=C_X_TEXT, mirror=True,
                minor=dict(tickmode='array', tickvals=C_MINOR, ticks='inside', ticklen=4,
                           tickcolor=INK, tickwidth=1), ticklabelstandoff=6),
    yaxis6=dict(base_ax, domain=[fy(1686), fy(1004)], anchor='x4', range=[0.7005, 1.5708],
                tickmode='array', tickvals=C_Y_TICKS, ticktext=C_Y_TEXT, mirror=True,
                ticklen=9, ticklabelstandoff=8),
    # Inset
    xaxis5=dict(base_ax, domain=[fx(232), fx(482)], anchor='y7', range=[1, 5],
                tickmode='array', tickvals=IN_X_TICKS, mirror='ticks',
                tickfont=dict(family=FONT, size=21, color=INK), ticklabelstandoff=2),
    yaxis7=dict(base_ax, domain=[fy(1576), fy(1228)], anchor='x5', range=[-2, 0],
                tickmode='array', tickvals=IN_Y_TICKS, ticktext=IN_Y_TEXT, mirror=True,
                tickfont=dict(family=FONT, size=21, color=INK), ticklabelstandoff=2),
    legend=dict(x=fx(606), y=fy(41), xanchor='left', yanchor='top', bgcolor='white',
                bordercolor='#b4b4b4', borderwidth=1, font=dict(family=FONT, size=23, color=INK),
                tracegroupgap=0),
    legend2=dict(x=fx(840), y=fy(474), xanchor='left', yanchor='top', bgcolor='rgba(0,0,0,0)',
                 font=dict(family=FONT, size=20.6, color=INK), tracegroupgap=0, itemwidth=30),
    legend3=dict(x=fx(854), y=fy(1005), xanchor='left', yanchor='top', bgcolor='rgba(0,0,0,0)',
                 font=dict(family=FONT, size=21, color=INK), tracegroupgap=0, itemwidth=30),
)
fig.update_layout(**layout)

def ann(text, x, y, size=22, angle=0, xanchor='center', color=INK):
    fig.add_annotation(text=text, x=fx(x), y=fy(y), xref='paper', yref='paper',
                       xanchor=xanchor, yanchor='middle', showarrow=False, textangle=angle,
                       font=dict(family=FONT, size=size, color=color))

# panel labels
ann('<b>A</b>', 12, 18, size=20, xanchor='left')
ann('<b>B</b>', 12, 470, size=20, xanchor='left')
ann('<b>C</b>', 17, 990, size=20, xanchor='left')
# Panel A titles
ann('Time (μs)', 450, 443)
ann('<i>Φ</i> (φ<sub>0</sub>)', 37, 209, angle=-90)
ann('d<i>Φ</i>/dt (kφ<sub>0</sub>/s)', 845, 207, angle=-90, color=LIGHT)
ann('<i>B</i> (nT)', 962, 215, angle=-90, color=GREEN)
# Panel B titles
ann('Frequency (Hz)', 280, 943)
ann('Frequency (Hz)', 608, 943)
ann('Magnetic current <i>J</i> (×10<sup>3</sup><i>μ</i><sub>0</sub><sup>-1</sup> φ<sub>0</sub>/s)',
    53, 692, angle=-90)
ann('d<i>N</i>/d<i>t</i> (×10<sup>7</sup> s<sup>-1</sup>)', 826, 692, angle=-90)
ann('In-phase current', 126, 532, xanchor='left')
ann('Out-of-phase current', 463, 531, xanchor='left')
# Panel C titles
ann('Frequency (Hz)', 545, 1750)
ann('Loss angle <i>θ</i><sub>d</sub> (rad)', 40, 1340, angle=-90)
ann('d<i>θ</i><sub>d</sub>/d<i>f</i> (×10<sup>-4</sup> rad/Hz)', 180, 1402, size=20, angle=-90)
ann('Frequency (kHz)', 357, 1623, size=21)
ann('<span style="font-family:Liberation Serif"><i>f</i></span><sub>'
    '<span style="font-family:Liberation Serif">d</span></sub> = 1800 Hz', 222, 1170, xanchor='left')
fig.add_annotation(x=F_D_KHZ, y=0, xref='x5', yref='y7', text='', showarrow=True,
                   ax=0, ay=-38, arrowhead=2, arrowsize=1.1, arrowwidth=2, arrowcolor=INK,
                   standoff=5)

fig.write_html('out.html')
